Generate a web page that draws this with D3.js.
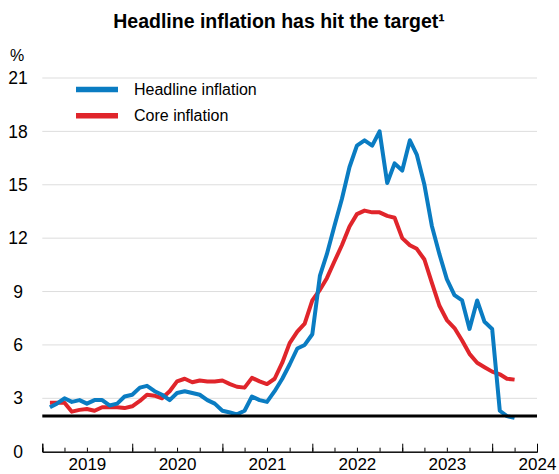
<!DOCTYPE html>
<html>
<head>
<meta charset="utf-8">
<script src="https://cdn.jsdelivr.net/npm/d3@7"></script>
<style>
  html, body { margin: 0; padding: 0; background: #fff; }
  svg { display: block; font-family: "Liberation Sans", Arial, sans-serif; }
</style>
</head>
<body>
<svg id="chart" width="559" height="474"></svg>
<script>
// ---- data ----
const titleText = "Headline inflation has hit the target\u00B9";
const unitLabel = "%";
const seriesNames = ["Headline inflation", "Core inflation"];
const firstMonth = "2019-01";   // first observation month (plotted at month end)
const headline = [
  2.5, 2.7, 3.0, 2.8, 2.9, 2.7, 2.9, 2.9, 2.6, 2.7, 3.1, 3.2,
  3.6, 3.7, 3.4, 3.2, 2.9, 3.3, 3.4, 3.3, 3.2, 2.9, 2.7, 2.3,
  2.2, 2.1, 2.3, 3.1, 2.9, 2.8, 3.4, 4.1, 4.9, 5.8, 6.0, 6.6,
  9.9, 11.1, 12.7, 14.2, 16.0, 17.2, 17.5, 17.2, 18.0, 15.1, 16.2, 15.8,
  17.5, 16.7, 15.0, 12.7, 11.1, 9.7, 8.8, 8.5, 6.9, 8.5, 7.3, 6.9,
  2.3, 2.0, 1.9
];
const core = [
  2.75, 2.75, 2.75, 2.25, 2.35, 2.4, 2.3, 2.5, 2.5, 2.5, 2.45, 2.55,
  2.85, 3.2, 3.15, 3.0, 3.4, 3.95, 4.1, 3.9, 4.0, 3.95, 3.95, 4.0,
  3.8, 3.65, 3.6, 4.15, 3.95, 3.8, 4.1, 5.0, 6.1, 6.75, 7.2, 8.5,
  9.1, 9.75, 10.7, 11.6, 12.65, 13.35, 13.55, 13.45, 13.45, 13.25, 13.15, 12.0,
  11.6, 11.4, 10.8, 9.5, 8.2, 7.4, 6.95, 6.25, 5.5, 5.0, 4.75, 4.5,
  4.35, 4.1, 4.05
];
const target = 2;
const yTicks = [0, 3, 6, 9, 12, 15, 18, 21];
const yearLabels = ["2019", "2020", "2021", "2022", "2023", "2024"];
const xStart = "2019-01-01", xEnd = "2024-07-01";

// ---- layout ----
const colors = { headline: "#0a7cc2", core: "#e0252b", grid: "#dddddd" };
const svg = d3.select("#chart");
const parse = d3.utcParse("%Y-%m-%d");
const x = d3.scaleUtc().domain([parse(xStart), parse(xEnd)]).range([42.3, 537]);
const y = d3.scaleLinear().domain([0, 21]).range([451.7, 78]);

const start = d3.utcParse("%Y-%m")(firstMonth);
const dates = headline.map((_, i) => d3.utcMonth.offset(start, i + 1)); // end of month
const hData = headline.map((v, i) => ({ d: dates[i], v }));
const cData = core.map((v, i) => ({ d: dates[i], v }));

// title
svg.append("text").attr("x", 279).attr("y", 28).attr("text-anchor", "middle")
  .attr("font-weight", "bold").attr("font-size", 19.5).attr("fill", "#000").text(titleText);
svg.append("text").attr("x", 10).attr("y", 55).attr("dy", "0.35em")
  .attr("font-size", 16).attr("fill", "#000").text(unitLabel);

// grid lines
svg.append("g").selectAll("line").data(yTicks.filter(t => t > 0)).join("line")
  .attr("x1", x.range()[0]).attr("x2", x.range()[1])
  .attr("y1", d => y(d)).attr("y2", d => y(d))
  .attr("stroke", colors.grid).attr("stroke-width", 1);

// y labels
svg.append("g").selectAll("text").data(yTicks).join("text")
  .attr("x", 18).attr("y", d => y(d)).attr("dy", "0.35em")
  .attr("text-anchor", "middle").attr("font-size", 17.5).attr("fill", "#000")
  .text(d => d);

// x axis: minor (quarters), major (years), labels (mid-year)
const axisY = y(0);
const minor = d3.axisBottom(x).tickValues(d3.utcMonth.every(3).range(parse(xStart), d3.utcDay.offset(parse(xEnd), 1)))
  .tickSize(-4).tickFormat("");
const major = d3.axisBottom(x).tickValues(d3.utcYear.range(parse(xStart), parse(xEnd)))
  .tickSize(-8).tickFormat("");
const gMinor = svg.append("g").attr("transform", `translate(0,${axisY})`).call(minor);
const gMajor = svg.append("g").attr("transform", `translate(0,${axisY})`).call(major);
[gMinor, gMajor].forEach(g => {
  g.select(".domain").attr("stroke", "#000").attr("stroke-width", 1);
  g.selectAll(".tick line").attr("stroke", "#000").attr("stroke-width", 1);
});
const labelDates = yearLabels.map(t => parse(t + "-07-01"));
const lab = d3.axisBottom(x).tickValues(labelDates).tickSize(0).tickPadding(6)
  .tickFormat((d, i) => yearLabels[i]);
const gLab = svg.append("g").attr("transform", `translate(0,${axisY})`).call(lab);
gLab.select(".domain").remove();
gLab.selectAll("text").attr("font-size", 17).attr("fill", "#000")
  .attr("font-family", "Liberation Sans, Arial, sans-serif");

// lines
const line = d3.line().x(d => x(d.d)).y(d => y(d.v));
svg.append("path").datum(cData).attr("d", line).attr("fill", "none")
  .attr("stroke", colors.core).attr("stroke-width", 4).attr("stroke-linejoin", "round");
svg.append("path").datum(hData).attr("d", line).attr("fill", "none")
  .attr("stroke", colors.headline).attr("stroke-width", 4).attr("stroke-linejoin", "round");

// target line
svg.append("line").attr("x1", x.range()[0]).attr("x2", x.range()[1])
  .attr("y1", y(target)).attr("y2", y(target))
  .attr("stroke", "#000").attr("stroke-width", 3);

// legend
const leg = svg.append("g");
[[seriesNames[0], colors.headline, 89.5], [seriesNames[1], colors.core, 115.7]].forEach(([n, c, yy]) => {
  leg.append("line").attr("x1", 76).attr("x2", 118).attr("y1", yy).attr("y2", yy)
    .attr("stroke", c).attr("stroke-width", 5.5);
  leg.append("text").attr("x", 134).attr("y", yy).attr("dy", "0.35em")
    .attr("font-size", 16).attr("fill", "#000").text(n);
});
</script>
</body>
</html>
